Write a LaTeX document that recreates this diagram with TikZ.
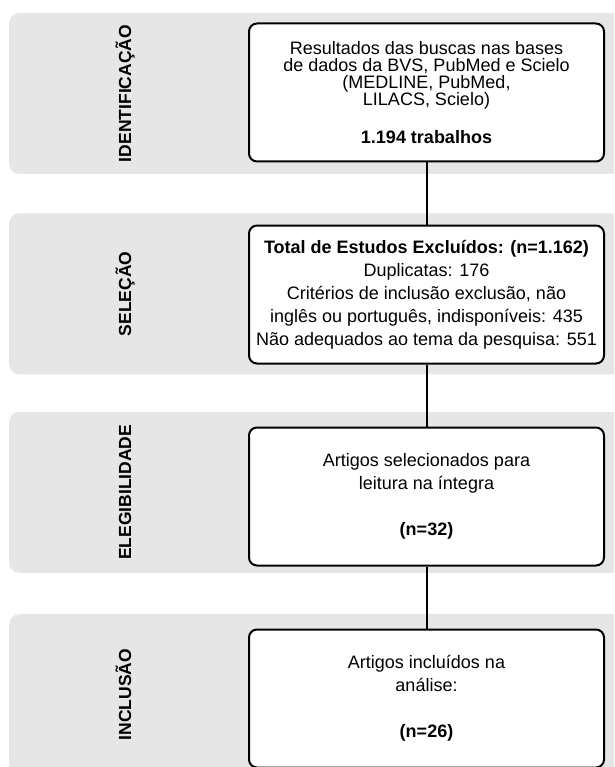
\documentclass[tikz,border=0pt]{standalone}
\usepackage{fontspec}
\setmainfont{Liberation Sans}
\usetikzlibrary{positioning}
\definecolor{ink}{RGB}{0,0,0}
\definecolor{stripe}{RGB}{230,230,230}
\tikzset{
  band/.style={fill=stripe,rounded corners=10pt,minimum width=632pt,minimum height=161pt,inner sep=0pt},
  phase/.style={rotate=90,anchor=base,font=\fontsize{17.5}{20}\selectfont\bfseries},
  box/.style={draw=ink,line width=2pt,rounded corners=8pt,fill=white,align=center,minimum width=355pt,minimum height=138pt,inner sep=2pt,font=\fontsize{18}{23}\selectfont},
  tight/.style={box,font=\fontsize{18}{17}\selectfont},
  link/.style={ink,line width=2pt},
}

\begin{document}
\begin{tikzpicture}[x=1pt,y=-1pt,node distance=62pt]
\useasboundingbox (0,0) rectangle (614,767);
\clip (0,0) rectangle (614,767);
\node[band, anchor=west] (b1) at (9,93.5) {};
\node[band, below=39pt of b1] (b2) {};
\node[band, below=37pt of b2] (b3) {};
\node[band, below=41pt of b3] (b4) {};
\node[phase] at ([xshift=122pt]b1.west) {IDENTIFICAÇÃO};
\node[phase] at ([xshift=122pt]b2.west) {SELEÇÃO};
\node[phase] at ([xshift=122pt]b3.west) {ELEGIBILIDADE};
\node[phase] at ([xshift=122pt]b4.west) {INCLUSÃO};
\node[tight] (busca) at (426.5,92.5)
  {Resultados das buscas nas bases\\de dados da BVS, PubMed e Scielo\\(MEDLINE, PubMed,\\LILACS, Scielo)\\[21pt]\textbf{1.194 trabalhos}};
\node[box, below=of busca] (excl)
  {\textbf{Total de Estudos Excluídos: (n=1.162)}\\Duplicatas: 176\\Critérios de inclusão exclusão, não\\inglês ou português, indisponíveis: 435\\Não adequados ao tema da pesquisa: 551};
\node[box, below=of excl] (eleg)
  {Artigos selecionados para\\leitura na íntegra\\[23pt]\textbf{(n=32)}};
\node[box, below=of eleg] (incl)
  {Artigos incluídos na\\análise:\\[23pt]\textbf{(n=26)}};
\draw[link] (busca) -- (excl);
\draw[link] (excl) -- (eleg);
\draw[link] (eleg) -- (incl);
\end{tikzpicture}
\end{document}
